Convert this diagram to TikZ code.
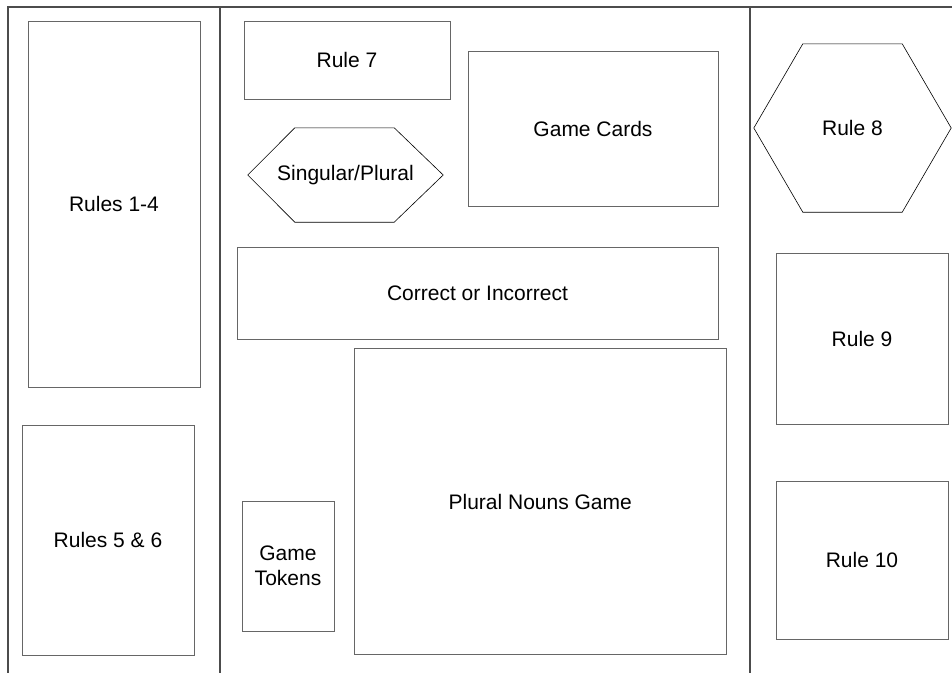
\documentclass[tikz,border=0pt]{standalone}
\usepackage{fontspec}
\setmainfont{Liberation Sans}
\begin{document}
\begin{tikzpicture}[x=1pt,y=-1pt,
  every node/.style={font=\fontsize{21}{25}\selectfont, inner sep=0pt},
  box/.style={draw=black!60, line width=1pt},
  hexa/.style={draw=none},
  hexline/.style={draw=black, line width=0.6pt, line join=miter},
  frame/.style={draw=black!70, line width=1.2pt}]
\useasboundingbox (0,0) rectangle (952,672);
\clip (0,0) rectangle (952,672);
% frame and dividers
\draw[frame] (8,680) -- (8,7) -- (960,7);
\draw[frame] (220,7) -- (220,680);
\draw[frame] (750,7) -- (750,680);
% boxes
\node[box, minimum width=172, minimum height=366] (r14) at (114,204) {Rules 1-4};
\node[box, minimum width=172, minimum height=230] (r56) at (108,540) {Rules 5 \& 6};
\node[box, minimum width=206, minimum height=78] (r7) at (347,60) {Rule 7};
\node[box, minimum width=250, minimum height=155] (cards) at (593,128.5) {Game Cards};
\node[box, minimum width=481, minimum height=92] (corr) at (477.5,293) {Correct or Incorrect};
\node[box, minimum width=372.5, minimum height=305.5] (png) at (540.25,501.5) {Plural Nouns Game};
\node[box, minimum width=92, minimum height=130, align=center] (tok) at (288,566) {Game\\Tokens};
\node[box, minimum width=172, minimum height=171] (r9) at (862,338.5) {Rule 9};
\node[box, minimum width=172, minimum height=158] (r10) at (862,560) {Rule 10};
% hexagons
\node[hexa, minimum width=195, minimum height=94] (sp) at (345.5,175) {Singular/Plural};
\draw[hexline] (sp.west) -- ([xshift=47]sp.north west) -- ([xshift=-49]sp.north east)
  -- (sp.east) -- ([xshift=-49]sp.south east) -- ([xshift=47]sp.south west) -- cycle;
\node[hexa, minimum width=197, minimum height=168] (r8) at (852.5,128) {Rule 8};
\draw[hexline] (r8.west) -- ([xshift=49]r8.north west) -- ([xshift=-49]r8.north east)
  -- (r8.east) -- ([xshift=-49]r8.south east) -- ([xshift=49]r8.south west) -- cycle;
\end{tikzpicture}
\end{document}
